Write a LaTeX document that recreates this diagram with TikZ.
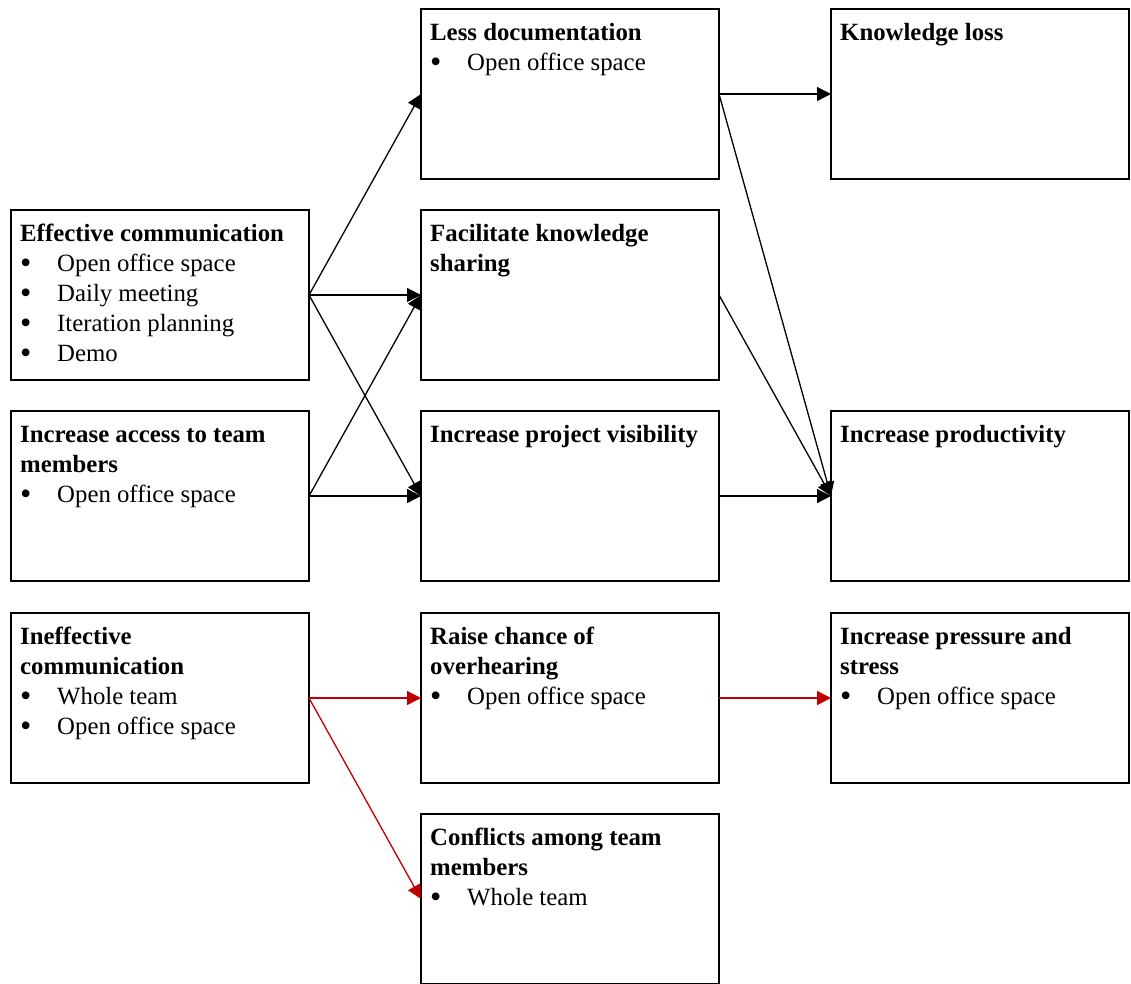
\documentclass[tikz,border=0pt]{standalone}
\usepackage{fontspec}
\usepackage{graphicx}
\setmainfont{Liberation Serif}
\usetikzlibrary{arrows.meta}
\definecolor{linkred}{RGB}{192,0,0}
% one bullet line inside a box
\newcommand{\itm}[1]{\\\makebox[37pt][l]{\raisebox{-2.5pt}{\scalebox{1.3}{\textbullet}}}#1}
% strut that fixes the first baseline
\newcommand{\firstline}{\rule{0pt}{23pt}}
\tikzset{
  box/.style={draw, line width=1.4pt, anchor=north west,
    minimum width=298pt, minimum height=170pt, inner sep=0pt, outer sep=0pt},
  boxtext/.style={anchor=north west, align=left, inner sep=0pt,
    font=\fontsize{24.8}{30}\selectfont},
  link/.style={line width=1.3pt, -{Triangle[length=14pt,width=14pt]}},
  redlink/.style={link, draw=linkred, fill=linkred}
}
\begin{document}
\begin{tikzpicture}[x=1pt,y=-1pt]
\useasboundingbox (0,0) rectangle (1131,983);

% left column
\node[box] (ec) at (11,210) {};
\node[boxtext] (ec-t) at (20,218) {\firstline\textbf{Effective communication}\itm{Open office space}\itm{Daily meeting}\itm{Iteration planning}\itm{Demo}};
\node[box] (ia) at (11,411) {};
\node[boxtext] (ia-t) at (20,419) {\firstline\textbf{Increase access to team}\\\textbf{members}\itm{Open office space}};
\node[box] (ic) at (11,613) {};
\node[boxtext] (ic-t) at (20,621) {\firstline\textbf{Ineffective}\\\textbf{communication}\itm{Whole team}\itm{Open office space}};

% middle column
\node[box] (ld) at (421,9) {};
\node[boxtext] (ld-t) at (430,17) {\firstline\textbf{Less documentation}\itm{Open office space}};
\node[box] (fk) at (421,210) {};
\node[boxtext] (fk-t) at (430,218) {\firstline\textbf{Facilitate knowledge}\\\textbf{sharing}};
\node[box] (pv) at (421,411) {};
\node[boxtext] (pv-t) at (430,419) {\firstline\textbf{Increase project visibility}};
\node[box] (ro) at (421,613) {};
\node[boxtext] (ro-t) at (430,621) {\firstline\textbf{Raise chance of}\\\textbf{overhearing}\itm{Open office space}};
\node[box] (ct) at (421,814) {};
\node[boxtext] (ct-t) at (430,822) {\firstline\textbf{Conflicts among team}\\\textbf{members}\itm{Whole team}};

% right column
\node[box] (kl) at (831,9) {};
\node[boxtext] (kl-t) at (840,17) {\firstline\textbf{Knowledge loss}};
\node[box] (ip) at (831,411) {};
\node[boxtext] (ip-t) at (840,419) {\firstline\textbf{Increase productivity}};
\node[box] (ps) at (831,613) {};
\node[boxtext] (ps-t) at (840,621) {\firstline\textbf{Increase pressure and}\\\textbf{stress}\itm{Open office space}};

% positive effects
\draw[link] (ec.east) -- (ld.west);
\draw[link] (ec.east) -- (fk.west);
\draw[link] (ec.east) -- (pv.west);
\draw[link] (ia.east) -- (fk.west);
\draw[link] (ia.east) -- (pv.west);
\draw[link] (ld.east) -- (kl.west);
\draw[link] (ld.east) -- (ip.west);
\draw[link] (fk.east) -- (ip.west);
\draw[link] (pv.east) -- (ip.west);

% negative effects
\draw[redlink] (ic.east) -- (ro.west);
\draw[redlink] (ic.east) -- (ct.west);
\draw[redlink] (ro.east) -- (ps.west);
\end{tikzpicture}
\end{document}
